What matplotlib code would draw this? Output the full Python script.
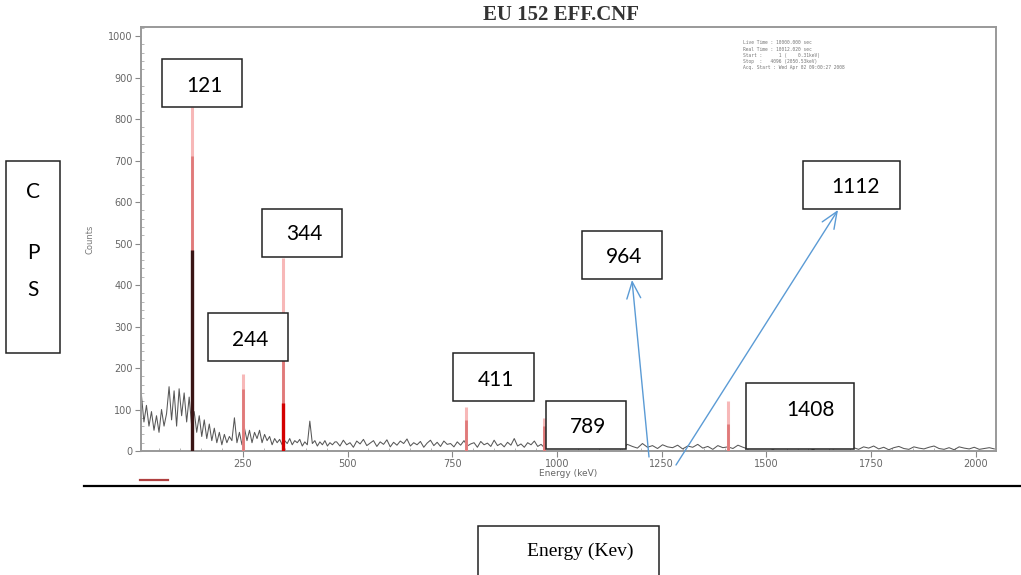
import numpy as np
import matplotlib
matplotlib.use('Agg')
import matplotlib.pyplot as plt
from matplotlib.patches import Rectangle
from matplotlib.ticker import MultipleLocator

W, H = 1021, 575

# continuum below 470 keV (counts)
low_energy = np.arange(8, 471, 6)
low_counts = [135, 70, 110, 60, 95, 50, 85, 45, 100, 60,
              90, 155, 75, 145, 60, 150, 85, 140, 70, 130,
              60, 95, 45, 85, 35, 75, 30, 65, 25, 55,
              20, 45, 15, 40, 20, 35, 25, 80, 20, 45,
              15, 55, 25, 50, 20, 45, 30, 50, 20, 40,
              25, 35, 15, 30, 20, 28, 15, 25, 18, 30,
              15, 25, 20, 28, 12, 22, 15, 72, 18, 25,
              12, 22, 15, 25, 12, 20, 15, 22]

# continuum 470 - 1050 keV
mid_energy = np.arange(474, 1051, 8)
mid_counts = [22, 12, 26, 15, 20, 9, 24, 17, 28, 13,
              19, 25, 11, 22, 16, 27, 10, 21, 14, 24,
              18, 29, 12, 20, 15, 23, 9, 19, 26, 13,
              21, 11, 24, 16, 18, 10, 22, 14, 25, 12,
              17, 20, 9, 23, 15, 19, 11, 26, 13, 18,
              10, 21, 14, 30, 12, 17, 9, 20, 15, 24,
              11, 16, 8, 19, 13, 22, 10, 15, 7, 18,
              12, 9, 14]

# continuum above 1050 keV
high_energy = np.arange(1060, 2045, 12)
high_counts = [14, 8, 17, 10, 6, 15, 9, 12, 5, 16,
               11, 7, 18, 9, 13, 6, 15, 10, 8, 14,
               5, 12, 9, 16, 7, 11, 4, 13, 8, 10,
               6, 14, 9, 5, 12, 7, 15, 8, 4, 11,
               9, 6, 13, 5, 10, 8, 3, 12, 7, 9,
               5, 11, 6, 14, 8, 4, 10, 7, 12, 5,
               9, 3, 8, 11, 6, 4, 10, 7, 5, 9,
               12, 6, 4, 8, 3, 10, 7, 5, 9, 4,
               6, 8, 5]

# marked peaks: faint top, darker part, darkest core
peak_energy = [128, 250, 346, 782, 968, 1408]
peak_top = [830, 185, 465, 105, 80, 120]
peak_mid = [710, 150, 330, 75, 60, 65]
peak_core = [485, 0, 115, 0, 0, 0]

x_ticks = [250, 500, 750, 1000, 1250, 1500, 1750, 2000]
y_ticks = list(range(0, 1001, 100))

title = 'EU 152 EFF.CNF'
info_lines = ['Live Time : 10000.000 sec',
              'Real Time : 10012.020 sec',
              'Start :      1 (    0.31keV)',
              'Stop  :   4096 (2050.53keV)',
              'Acq. Start : Wed Apr 02 09:00:27 2008']

box_labels = ['121', '344', '244', '411', '789', '964', '1112', '1408']
# box corners (x0, y0, x1, y1) and text centre, in image pixels
box_pos = [(162, 59, 242, 107), (262, 209, 342, 257), (208, 313, 288, 361),
           (453, 353, 534, 401), (546, 401, 626, 449), (582, 231, 662, 279),
           (803, 161, 900, 209), (746, 383, 854, 449)]
text_pos = [(204, 86), (304, 234), (250, 340), (496, 380), (588, 427),
            (624, 257), (856, 187), (810, 410)]

fig = plt.figure(figsize=(W / 100, H / 100), dpi=100)
ax = fig.add_axes([141 / W, 1 - 451 / H, (996 - 141) / W, (451 - 27) / H])

energy = np.concatenate([low_energy, mid_energy, high_energy])
counts = np.concatenate([low_counts, mid_counts, high_counts])
ax.plot(energy, counts, color='#3a3a3a', lw=0.75, alpha=0.85, zorder=2)

ax.vlines(peak_energy, 0, peak_top, colors='#f7b8b8', lw=2.2, zorder=3)
ax.vlines(peak_energy, 0, peak_mid, colors='#e07a7a', lw=2.0, zorder=3)
ax.vlines(peak_energy, 0, peak_core, colors=['#3a1515', '#d06060', '#d40000',
                                              '#b02020', '#d06060', '#b02020'],
          lw=2.4, zorder=4)

ax.set_xlim(7, 2048)
ax.set_ylim(0, 1022)
ax.set_xticks(x_ticks)
ax.set_yticks(y_ticks)
ax.xaxis.set_minor_locator(MultipleLocator(50))
ax.yaxis.set_minor_locator(MultipleLocator(20))
ax.tick_params(which='major', direction='out', length=4, width=0.8,
               color='#888888', labelcolor='#666666', labelsize=7, pad=2)
ax.tick_params(which='minor', direction='in', length=2.5, width=0.6,
               color='#aaaaaa')
for s in ax.spines.values():
    s.set_color('#999999')
    s.set_linewidth(1.4)
ax.set_xlabel('Energy (keV)', fontsize=6.5, color='#666666', labelpad=0)
ax.set_ylabel('Counts', fontsize=6, color='#777777', labelpad=10)

# overlay in image pixels for the pasted boxes and arrows
ov = fig.add_axes([0, 0, 1, 1], zorder=5)
ov.set_xlim(0, W)
ov.set_ylim(H, 0)
ov.axis('off')
ov.patch.set_alpha(0)

ov.text(561, 15, title, ha='center', va='center', fontsize=15,
        family='Liberation Serif', fontweight='bold', color='#333333')

for i, line in enumerate(info_lines):
    ov.text(743, 43 + i * 6.2, line, fontsize=3.3, family='DejaVu Sans Mono',
            color='#777777', va='center')

for lab, (x0, y0, x1, y1), (tx, ty) in zip(box_labels, box_pos, text_pos):
    ov.add_patch(Rectangle((x0, y0), x1 - x0, y1 - y0, facecolor='white',
                           edgecolor='#222222', lw=1.1))
    ov.text(tx, ty, lab, ha='center', va='center', fontsize=15, family='Lato',
            color='black')

# CPS box
ov.add_patch(Rectangle((6, 161), 54, 192, facecolor='white',
                       edgecolor='#222222', lw=1.1))
for letter, ly in zip(['C', 'P', 'S'], [192, 253, 290]):
    ov.text(33, ly, letter, ha='center', va='center', fontsize=15,
            family='Lato', color='black')

# Energy box at the bottom
ov.add_patch(Rectangle((478, 526), 181, 60, facecolor='white',
                       edgecolor='#222222', lw=1.1))
ov.text(580, 551, 'Energy (Kev)', ha='center', va='center', fontsize=14,
        family='Liberation Serif', color='black')

# arrows
arrow_style = dict(arrowstyle='->,head_length=1.2,head_width=0.5',
                   color='#5b9bd5', lw=1.0, mutation_scale=10,
                   shrinkA=0, shrinkB=0)
ov.annotate('', xy=(632, 280), xytext=(649, 457), arrowprops=arrow_style)
ov.annotate('', xy=(838, 210), xytext=(676, 465), arrowprops=arrow_style)

# rule under the chart and small red mark
ov.plot([84, 1021], [486, 486], color='black', lw=1.6)
ov.plot([140, 168], [480, 480], color='#b04040', lw=1.6)

fig.savefig('out.png', dpi=100)
